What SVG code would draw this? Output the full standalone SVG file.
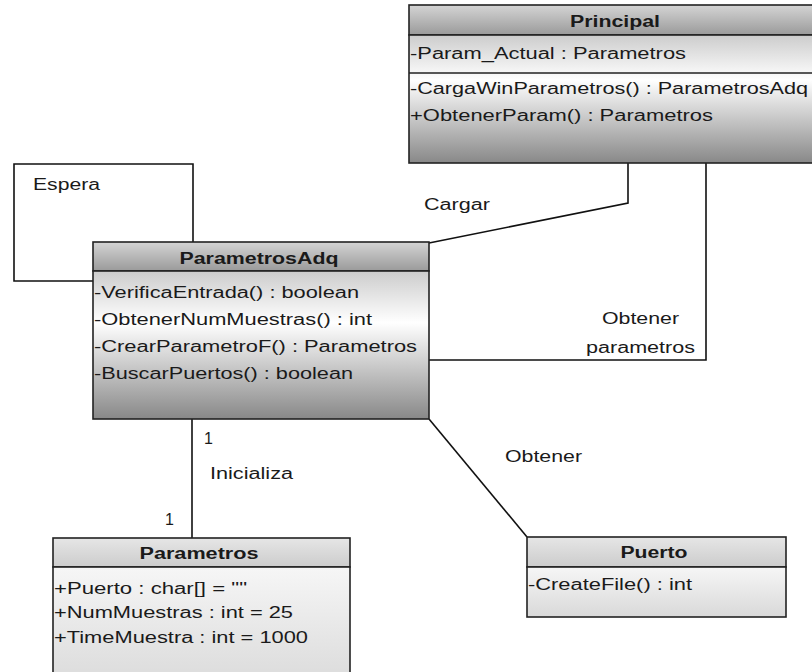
<svg xmlns="http://www.w3.org/2000/svg" width="812" height="672" viewBox="0 0 812 672">
  <defs>
    <linearGradient id="hdrDark" x1="0" y1="0" x2="0" y2="1">
      <stop offset="0" stop-color="#d4d4d4"/>
      <stop offset="1" stop-color="#9a9a9a"/>
    </linearGradient>
    <linearGradient id="bodyDark" x1="0" y1="0" x2="0" y2="1">
      <stop offset="0" stop-color="#cccccc"/>
      <stop offset="0.35" stop-color="#ffffff"/>
      <stop offset="1" stop-color="#888888"/>
    </linearGradient>
    <linearGradient id="hdrLight" x1="0" y1="0" x2="0" y2="1">
      <stop offset="0" stop-color="#e6e6e6"/>
      <stop offset="1" stop-color="#cccccc"/>
    </linearGradient>
    <linearGradient id="bodyLight" x1="0" y1="0" x2="0" y2="1">
      <stop offset="0" stop-color="#f6f6f6"/>
      <stop offset="1" stop-color="#d9d9d9"/>
    </linearGradient>
  </defs>
  <style>
    .box { stroke: #222; stroke-width: 1.6; }
    .sep { stroke: #222; stroke-width: 1.6; fill: none; }
    .conn { stroke: #111; stroke-width: 1.6; fill: none; }
    text { font-family: "Liberation Sans", Arial, sans-serif; font-size: 16px; fill: #1a1a1a; }
    .title { font-weight: bold; text-anchor: middle; }
  </style>

  <rect width="812" height="672" fill="#ffffff"/>

  <!-- associations -->
  <g id="connectors">
    <path class="conn" d="M193,242 V164 H14 V281 H93"/>
    <path class="conn" d="M628,163 V203 L429,243"/>
    <path class="conn" d="M706,163 V360 H429"/>
    <path class="conn" d="M429,419 L527,537"/>
    <path class="conn" d="M192,419 V538"/>
    <text x="33" y="190" textLength="67" lengthAdjust="spacingAndGlyphs">Espera</text>
    <text x="424" y="210" textLength="66" lengthAdjust="spacingAndGlyphs">Cargar</text>
    <text x="602" y="324" textLength="77" lengthAdjust="spacingAndGlyphs">Obtener</text>
    <text x="586" y="353" textLength="109" lengthAdjust="spacingAndGlyphs">parametros</text>
    <text x="505" y="462" textLength="77" lengthAdjust="spacingAndGlyphs">Obtener</text>
    <text x="204" y="444">1</text>
    <text x="210" y="479" textLength="83" lengthAdjust="spacingAndGlyphs">Inicializa</text>
    <text x="165" y="525">1</text>
  </g>

  <!-- class Principal -->
  <g id="Principal">
    <rect class="box" x="409" y="5" width="420" height="30" fill="url(#hdrDark)"/>
    <rect class="box" x="409" y="35" width="420" height="128" fill="url(#bodyDark)"/>
    <line class="sep" x1="409" y1="73" x2="829" y2="73"/>
    <text class="title" x="615" y="27" textLength="90" lengthAdjust="spacingAndGlyphs">Principal</text>
    <text x="410" y="59" textLength="276" lengthAdjust="spacingAndGlyphs">-Param_Actual : Parametros</text>
    <text x="410" y="94" textLength="398" lengthAdjust="spacingAndGlyphs">-CargaWinParametros() : ParametrosAdq</text>
    <text x="410" y="121" textLength="303" lengthAdjust="spacingAndGlyphs">+ObtenerParam() : Parametros</text>
  </g>

  <!-- class ParametrosAdq -->
  <g id="ParametrosAdq">
    <rect class="box" x="93" y="242" width="336" height="29" fill="url(#hdrDark)"/>
    <rect class="box" x="93" y="271" width="336" height="148" fill="url(#bodyDark)"/>
    <text class="title" x="259" y="264" textLength="159" lengthAdjust="spacingAndGlyphs">ParametrosAdq</text>
    <text x="94" y="298" textLength="265" lengthAdjust="spacingAndGlyphs">-VerificaEntrada() : boolean</text>
    <text x="94" y="325" textLength="278" lengthAdjust="spacingAndGlyphs">-ObtenerNumMuestras() : int</text>
    <text x="94" y="352" textLength="323" lengthAdjust="spacingAndGlyphs">-CrearParametroF() : Parametros</text>
    <text x="94" y="379" textLength="259" lengthAdjust="spacingAndGlyphs">-BuscarPuertos() : boolean</text>
  </g>

  <!-- class Parametros -->
  <g id="Parametros">
    <rect class="box" x="53" y="538" width="297" height="29" fill="url(#hdrLight)"/>
    <rect class="box" x="53" y="567" width="297" height="125" fill="url(#bodyLight)"/>
    <text class="title" x="199" y="559" textLength="119" lengthAdjust="spacingAndGlyphs">Parametros</text>
    <text x="54" y="594" textLength="193" lengthAdjust="spacingAndGlyphs">+Puerto : char[] = ""</text>
    <text x="54" y="618" textLength="239" lengthAdjust="spacingAndGlyphs">+NumMuestras : int = 25</text>
    <text x="54" y="643" textLength="254" lengthAdjust="spacingAndGlyphs">+TimeMuestra : int = 1000</text>
  </g>

  <!-- class Puerto -->
  <g id="Puerto">
    <rect class="box" x="527" y="537" width="259" height="30" fill="url(#hdrLight)"/>
    <rect class="box" x="527" y="567" width="259" height="50" fill="url(#bodyLight)"/>
    <text class="title" x="654" y="558" textLength="67" lengthAdjust="spacingAndGlyphs">Puerto</text>
    <text x="528" y="590" textLength="164" lengthAdjust="spacingAndGlyphs">-CreateFile() : int</text>
  </g>
</svg>
